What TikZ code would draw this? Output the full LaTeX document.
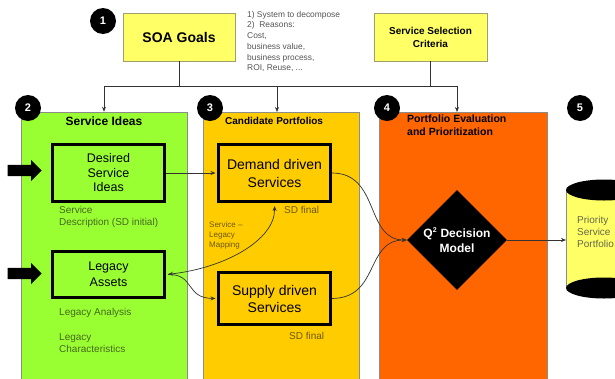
\documentclass[tikz,border=0pt]{standalone}
\usepackage{fontspec}
\setmainfont{Liberation Sans}
\usetikzlibrary{shapes.geometric,shapes.arrows,arrows.meta}
\definecolor{grn}{HTML}{99FF33}
\definecolor{ylw}{HTML}{FFCC00}
\definecolor{org}{HTML}{FF6600}
\definecolor{softy}{HTML}{FFFF66}
\definecolor{colborder}{HTML}{8C8C8C}
\definecolor{topborder}{HTML}{9E9E6E}
\definecolor{notegray}{HTML}{555555}
\definecolor{gnote}{HTML}{46681C}
\definecolor{ynote}{HTML}{6E5A00}
\definecolor{pnote}{HTML}{66664A}
\definecolor{linec}{HTML}{333333}
\begin{document}
\begin{tikzpicture}[x=1pt,y=-1pt,
  num/.style={circle, fill=black, text=white, font=\bfseries\fontsize{11}{11}\selectfont, minimum size=26pt, inner sep=0},
  topbox/.style={draw=topborder, fill=softy, line width=0.8pt, align=center, inner sep=0},
  colbox/.style={draw=colborder, line width=0.6pt, inner sep=0, minimum height=270pt},
  inbox/.style={draw=black, line width=3pt, align=center, inner sep=0, minimum width=112pt},
  note/.style={anchor=north west, align=left, inner sep=0},
  conn/.style={draw=linec, line width=0.7pt},
  arr/.style={conn, -{Stealth[length=5pt,width=4pt]}},
  bigarrow/.style={single arrow, fill=black, inner xsep=0pt, inner ysep=5.5pt, minimum height=34pt, single arrow head extend=5pt, single arrow head indent=0pt}
]
\useasboundingbox (0,0) rectangle (615,378);
\fill[white] (0,0) rectangle (615,378);

% columns
\node[colbox, fill=grn, minimum width=166pt] (green) at (104,247) {};
\node[colbox, fill=ylw, minimum width=156pt] (yellow) at (281,247) {};
\node[colbox, fill=org, minimum width=168pt] (orange) at (463,247) {};

% top boxes
\node[topbox, minimum width=112pt, minimum height=48pt, font=\bfseries\fontsize{14}{16}\selectfont] (soa) at (179,37) {SOA Goals};
\node[topbox, minimum width=113pt, minimum height=48pt, font=\bfseries\fontsize{10}{13}\selectfont] (ssc) at (430.5,37) {Service Selection\\Criteria};
\node[note, text=notegray, font=\fontsize{8.4}{10.7}\selectfont] (goalnote) at (247,11) {1) System to decompose\\2)\ \ Reasons:\\Cost,\\business value,\\business process,\\ROI, Reuse, ...};

% titles
\node[font=\bfseries\fontsize{12}{14}\selectfont, inner sep=0] (t2) at (104,121) {Service Ideas};
\node[anchor=west, font=\bfseries\fontsize{10}{12}\selectfont, inner sep=0] (t3) at (225,121) {Candidate Portfolios};
\node[note, font=\bfseries\fontsize{10.5}{13}\selectfont] (t4) at (407,115) {Portfolio Evaluation\\and Prioritization};

% numbers
\node[num] (c1) at (103,21) {1};
\node[num] (c2) at (28,108) {2};
\node[num] (c3) at (210,108) {3};
\node[num] (c4) at (387,108) {4};
\node[num] (c5) at (580,108) {5};

% inner boxes
\node[inbox, minimum height=57pt, font=\fontsize{12.5}{14.5}\selectfont] (desired) at (108.5,173) {Desired\\Service\\Ideas};
\node[inbox, minimum height=46pt, font=\fontsize{12.5}{16}\selectfont] (legacy) at (108.5,274.5) {Legacy\\Assets};
\node[inbox, minimum height=57pt, font=\fontsize{14}{18}\selectfont] (demand) at (274.5,173) {Demand driven\\Services};
\node[inbox, minimum height=52pt, font=\fontsize{14}{17}\selectfont] (supply) at (274.5,298.5) {Supply driven\\Services};

% notes
\node[note, text=gnote, font=\fontsize{10}{12}\selectfont] (sdinit) at (59,206) {Service\\Description (SD initial)};
\node[note, text=gnote, font=\fontsize{10}{12}\selectfont] (legan) at (59,308) {Legacy Analysis};
\node[note, text=gnote, font=\fontsize{10}{12.5}\selectfont] (legch) at (59,333) {Legacy\\Characteristics};
\node[note, text=ynote, font=\fontsize{10}{12}\selectfont] (sdf1) at (284,206) {SD final};
\node[note, text=ynote, font=\fontsize{10}{12}\selectfont] (sdf2) at (289,332) {SD final};
\node[note, text=ynote, font=\fontsize{8}{10.3}\selectfont] (map) at (209,221) {Service –\\Legacy\\Mapping};

% decision
\node[diamond, fill=black, minimum width=100pt, minimum height=100pt, inner sep=0] (dec) at (457,240) {};
\node[text=white, align=center, font=\bfseries\fontsize{12}{15}\selectfont, inner sep=0] (declabel) at (dec.center) {Q\textsuperscript{\fontsize{7}{7}\selectfont 2} Decision\\Model};

% cylinder
\fill[softy] (566,190) rectangle (642,288);
\draw[colborder, line width=0.6pt] (566,190) -- (566,288);
\fill[black] (604,190) ellipse (38pt and 10.5pt);
\fill[black] (604,288) ellipse (38pt and 10.5pt);
\node[note, text=pnote, font=\fontsize{10}{12}\selectfont] (prio) at (577,216) {Priority\\Service\\Portfolio};
\coordinate (cylin) at (566,240);

% big input arrows
\node[bigarrow, anchor=tip] (in1) at (42,170.5) {};
\node[bigarrow, anchor=tip] (in2) at (42,273.5) {};

% connectors
\coordinate (j1) at (179,86);
\coordinate (j2) at (430.5,86);
\coordinate (a3) at (277,112);
\coordinate (a4) at (457,112);
\draw[conn] (soa.south) -- (j1);
\draw[arr] (j1) -| (green.north);
\draw[arr] (j1) -| (a3);
\draw[conn] (j1) -- (j2);
\draw[conn] (ssc.south) -- (j2);
\draw[arr] (j2) -| (a4);

\draw[arr, shorten >=1.5pt] (desired.east) -- (demand.west);
\draw[conn, {Stealth[length=5pt,width=4pt]}-{Stealth[length=5pt,width=4pt]}, shorten <=2pt, shorten >=3pt] (legacy.east) .. controls (225,268) and (275,240) .. (demand.south);
\draw[arr, shorten <=2pt, shorten >=1.5pt] (legacy.east) .. controls (195,274) and (185,298) .. (supply.west);
\draw[arr] (demand.east) .. controls (380,173) and (365,240) .. (dec.west);
\draw[arr] (supply.east) .. controls (380,298) and (365,240) .. (dec.west);
\draw[arr] (dec.east) -- (cylin);
\end{tikzpicture}
\end{document}
